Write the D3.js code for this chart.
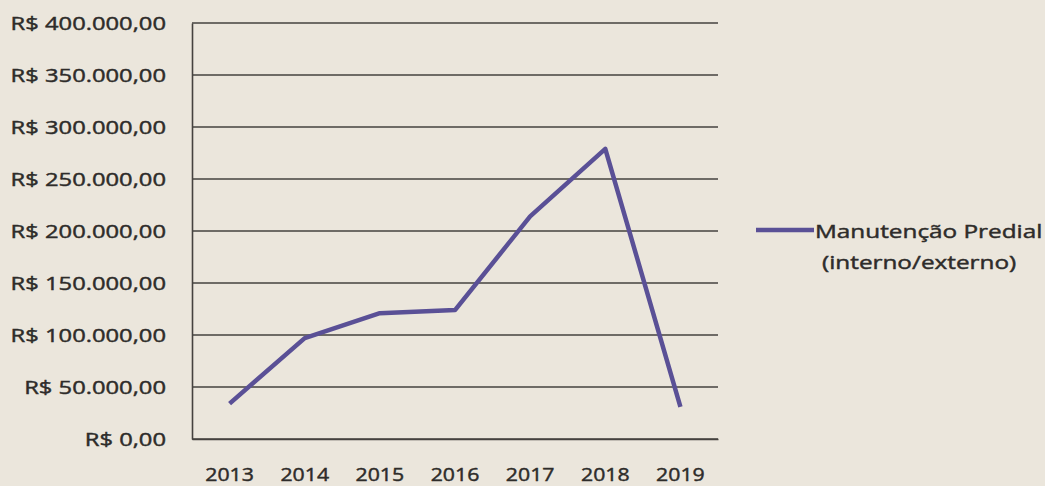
<!DOCTYPE html>
<html>
<head>
<meta charset="utf-8">
<script src="https://cdn.jsdelivr.net/npm/d3@7"></script>
<style>
  body { margin: 0; background: #ebe6dc; }
  svg { display: block; }
  text { font-family: "Open Sans", Lato, sans-serif; font-weight: 400; fill: #2e2c2a; stroke: #2e2c2a; stroke-width: 0.45px; }
</style>
</head>
<body>
<script>
var years = ["2013", "2014", "2015", "2016", "2017", "2018", "2019"];
var values = [34000, 97000, 121000, 124000, 214000, 279000, 31000];
var yTicks = [0, 50000, 100000, 150000, 200000, 250000, 300000, 350000, 400000];
var seriesName = ["Manutenção Predial", "(interno/externo)"];

var width = 1045, height = 486;
var margin = {top: 23, right: 327, bottom: 47, left: 192};

var svg = d3.select("body").append("svg")
    .attr("width", width)
    .attr("height", height);

svg.append("rect")
    .attr("width", width)
    .attr("height", height)
    .attr("fill", "#ebe6dc");

var x = d3.scaleBand()
    .domain(years)
    .range([margin.left, width - margin.right]);

var y = d3.scaleLinear()
    .domain([0, 400000])
    .range([height - margin.bottom, margin.top]);

function brl(v) {
    var s = d3.format(",.2f")(v).replace(/,/g, "#").replace(".", ",").replace(/#/g, ".");
    return "R$ " + s;
}

// grid lines
svg.append("g")
    .selectAll("line")
    .data(yTicks)
    .enter()
    .append("line")
    .attr("x1", margin.left)
    .attr("x2", width - margin.right)
    .attr("y1", function (d) { return y(d); })
    .attr("y2", function (d) { return y(d); })
    .attr("stroke", "#45423f")
    .attr("stroke-width", 1.6);

// axes lines only, labels drawn below
var yAxis = svg.append("g")
    .attr("transform", "translate(" + margin.left + ",0)")
    .call(d3.axisLeft(y).tickValues(yTicks).tickFormat("").tickSize(0));
yAxis.select(".domain").attr("stroke", "#45423f").attr("stroke-width", 1.6);

var xAxis = svg.append("g")
    .attr("transform", "translate(0," + (height - margin.bottom) + ")")
    .call(d3.axisBottom(x).tickFormat("").tickSize(0));
xAxis.select(".domain").attr("stroke", "#45423f").attr("stroke-width", 1.6);

// y labels (stretched a bit like the photographed print)
svg.append("g")
    .selectAll("g")
    .data(yTicks)
    .enter()
    .append("g")
    .attr("transform", function (d) { return "translate(166," + y(d) + ") scale(1.25,1)"; })
    .append("text")
    .attr("text-anchor", "end")
    .attr("dy", "0.36em")
    .attr("font-size", "19px")
    .text(brl);

// x labels
svg.append("g")
    .selectAll("g")
    .data(years)
    .enter()
    .append("g")
    .attr("transform", function (d) { return "translate(" + (x(d) + x.bandwidth() / 2) + ",481) scale(1.12,1)"; })
    .append("text")
    .attr("text-anchor", "middle")
    .attr("font-size", "19px")
    .text(function (d) { return d; });

// series line
var line = d3.line()
    .x(function (d, i) { return x(years[i]) + x.bandwidth() / 2; })
    .y(function (d) { return y(d); });

svg.append("path")
    .datum(values)
    .attr("d", line)
    .attr("fill", "none")
    .attr("stroke", "#5a5096")
    .attr("stroke-width", 4.5)
    .attr("stroke-linejoin", "round");

// legend
var lg = svg.append("g").attr("transform", "translate(756,230)");
lg.append("line")
    .attr("x1", 0).attr("x2", 58)
    .attr("stroke", "#5a5096")
    .attr("stroke-width", 4.5);
lg.selectAll("g")
    .data(seriesName)
    .enter()
    .append("g")
    .attr("transform", function (d, i) { return "translate(" + (i === 0 ? 59 : 66) + "," + (i * 31 + 8) + ") scale(1.28,1)"; })
    .append("text")
    .attr("font-size", "19px")
    .text(function (d) { return d; });
</script>
</body>
</html>
